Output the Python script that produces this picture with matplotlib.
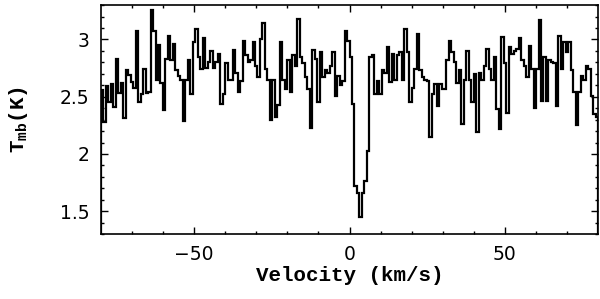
import numpy as np
import matplotlib
matplotlib.use("Agg")
import matplotlib.pyplot as plt

# spectrum, channels evenly spaced over -80..80 km/s
v_min, v_max = -80.0, 80.0
tmb = [
    2.56, 2.28, 2.59, 2.45, 2.61, 2.41, 2.83, 2.53, 2.62, 2.31,
    2.73, 2.69, 2.63, 2.58, 3.07, 2.45, 2.52, 2.74, 2.53, 2.54,
    3.26, 3.07, 2.65, 2.95, 2.62, 2.38, 2.83, 3.03, 2.82, 2.96,
    2.73, 2.68, 2.65, 2.29, 2.65, 2.82, 2.52, 2.98, 3.09, 2.85,
    2.74, 3.01, 2.75, 2.80, 2.90, 2.75, 2.80, 2.87, 2.44, 2.52,
    2.79, 2.65, 2.65, 2.91, 2.71, 2.54, 2.64, 2.99, 2.86, 2.80,
    2.82, 2.98, 2.77, 2.67, 3.00, 3.14, 2.74, 2.65, 2.30, 2.65,
    2.32, 2.43, 2.98, 2.65, 2.57, 2.82, 2.54, 2.86, 2.77, 3.18,
    2.85, 2.79, 2.67, 2.57, 2.23, 2.91, 2.83, 2.45, 2.89, 2.67,
    2.73, 2.71, 2.77, 2.89, 2.51, 2.68, 2.60, 2.64, 3.07,
    2.99, 2.85, 2.44, 1.72, 1.66, 1.45, 1.66, 1.76, 2.03, 2.85, 2.86,
    2.52, 2.64, 2.52, 2.73, 2.71, 2.93, 2.63, 2.87, 2.65, 2.86,
    2.89, 2.65, 3.09, 2.89, 2.45, 2.58, 2.74, 3.05, 2.73, 2.67,
    2.65, 2.64, 2.15,
    2.52, 2.61, 2.42, 2.61, 2.57, 2.57, 2.82, 2.99, 2.89, 2.80,
    2.62, 2.73, 2.26, 2.65, 2.90, 2.65, 2.45, 2.70, 2.19, 2.71,
    2.65, 2.77, 2.92, 2.74, 2.65, 2.85, 2.39, 2.22, 3.02, 2.79,
    2.36, 2.93, 2.87, 2.90,
    2.92, 3.01, 2.82, 2.77, 2.67, 2.94, 2.74, 2.40, 2.74, 3.17,
    2.46, 2.85, 2.46, 2.82, 2.80, 2.79, 2.42, 3.03, 2.74, 2.98,
    2.89, 2.98, 2.73, 2.54, 2.25, 2.54, 2.68, 2.65, 2.77, 2.74,
    2.51, 2.35, 2.32,
]
x_ticks = [-50, 0, 50]
y_ticks = [1.5, 2, 2.5, 3]
y_tick_labels = ['1.5', '2', '2.5', '3']

edges = np.linspace(v_min, v_max, len(tmb) + 1)

plt.rcParams['font.family'] = ['DejaVu Sans']
fig = plt.figure(figsize=(6.0, 2.99), dpi=100)
ax = fig.add_axes([0.168, 0.217, 0.829, 0.766])

ax.stairs(tmb, edges, color='black', linewidth=1.6)

ax.set_xlim(v_min, v_max)
ax.set_ylim(1.3, 3.3)
ax.set_xticks(x_ticks)
ax.set_xticks(np.arange(-70, 80, 10), minor=True)
ax.set_yticks(y_ticks)
ax.set_yticklabels(y_tick_labels)
ax.set_yticks(np.arange(1.3, 3.31, 0.1), minor=True)
ax.tick_params(which='both', direction='in', top=True, right=True, width=1.0)
ax.tick_params(which='major', length=5, labelsize=13.5, pad=8)
ax.tick_params(which='minor', length=2.5)
for s in ax.spines.values():
    s.set_linewidth(1.2)

lab_font = dict(family='Liberation Mono', weight='bold', size=15)
ax.set_xlabel('Velocity (km/s)', labelpad=1, **lab_font)
ax.set_ylabel(r'T$_{\mathregular{mb}}$(K)', labelpad=22, **lab_font)

fig.savefig('out.png', dpi=100)
